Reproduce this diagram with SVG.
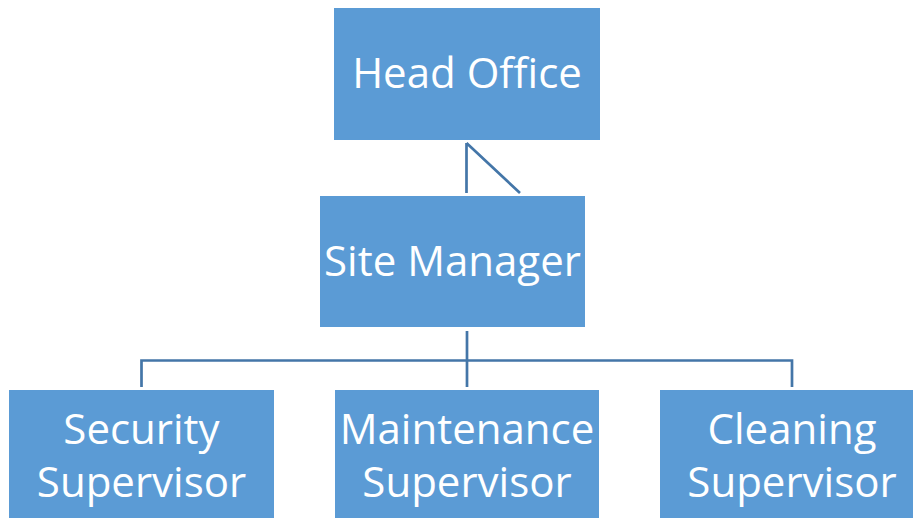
<svg xmlns="http://www.w3.org/2000/svg" width="913" height="518" viewBox="0 0 913 518">
<style>
.box{fill:#5B9BD5}
.lbl{fill:#fff;font-family:"Open Sans","Liberation Sans",sans-serif;font-size:42px;text-anchor:middle}
.con{stroke:#4476A8;stroke-width:2.7;fill:none}
</style>
<rect width="913" height="518" fill="#fff"/>
<g id="connectors">
<path class="con" d="M466.5 143V193M466.5 143L520 193"/>
<path class="con" d="M467 331V387M141.5 387V360.5H792V387"/>
</g>
<g id="head-office"><rect class="box" x="334" y="8" width="266" height="132"/><text class="lbl" x="467" y="88">Head Office</text></g>
<g id="site-manager"><rect class="box" x="320" y="196" width="265" height="131"/><text class="lbl" x="452.5" y="276">Site Manager</text></g>
<g id="security"><rect class="box" x="9" y="390" width="265" height="128"/><text class="lbl" x="141.5" y="444">Security</text><text class="lbl" x="141.5" y="497">Supervisor</text></g>
<g id="maintenance"><rect class="box" x="335" y="390" width="264" height="128"/><text class="lbl" x="467" y="444">Maintenance</text><text class="lbl" x="467" y="497">Supervisor</text></g>
<g id="cleaning"><rect class="box" x="660" y="390" width="253" height="128"/><text class="lbl" x="792" y="444">Cleaning</text><text class="lbl" x="792" y="497">Supervisor</text></g>
</svg>
